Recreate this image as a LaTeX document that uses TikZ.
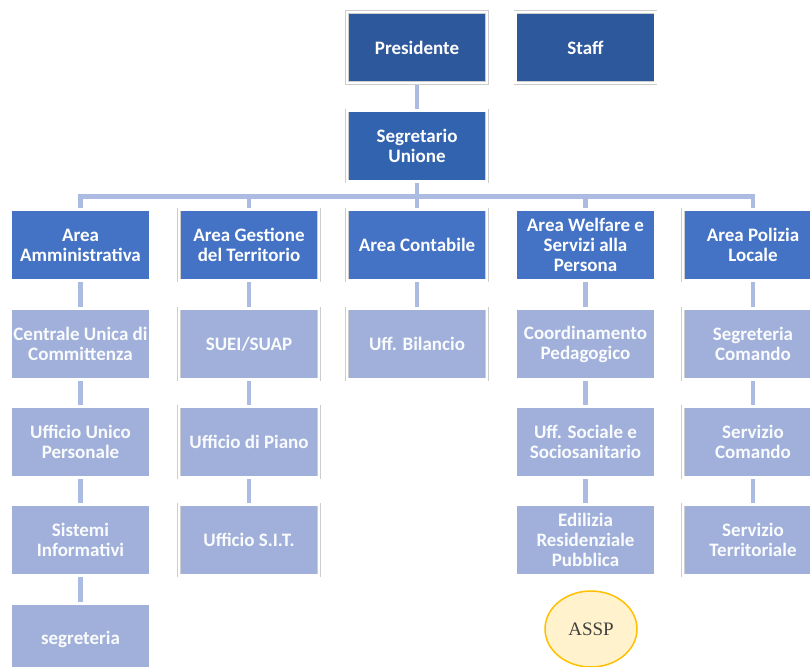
\documentclass[tikz,border=0pt]{standalone}
\usepackage{fontspec}
\setmainfont{Carlito}
\newfontfamily\asspfont{Liberation Serif}
\usetikzlibrary{backgrounds,shapes.geometric}
\definecolor{presblue}{RGB}{46,88,156}
\definecolor{segblue}{RGB}{49,99,174}
\definecolor{areablue}{RGB}{68,114,196}
\definecolor{officeblue}{RGB}{160,176,218}
\definecolor{framegray}{RGB}{205,205,205}
\definecolor{linkfill}{RGB}{172,187,225}
\definecolor{asspfill}{RGB}{255,242,204}
\definecolor{asspgold}{RGB}{255,192,0}
\tikzset{
  box/.style={draw=framegray, double=white, double distance=2.4pt, line width=0.7pt,
    minimum width=140, minimum height=71, inner sep=0pt, align=center,
    text=white, font=\bfseries\fontsize{19}{20}\selectfont},
  area/.style={box, fill=areablue},
  office/.style={box, fill=officeblue, text=white!95!officeblue},
  link/.style={draw=linkfill, line width=4.4pt},
  assp/.style={ellipse, draw=asspgold, line width=1.5pt, fill=asspfill,
    minimum width=92, minimum height=76, inner sep=0pt, text=black!75,
    font=\asspfont\fontsize{19}{22}\selectfont}
}
\begin{document}
\begin{tikzpicture}[x=1pt,y=-1pt]
			\useasboundingbox (0,0) rectangle (810,666);
			%%%%% VERTICE %%%%%
			\node[box, fill=presblue] (pres) at (417,47.5) {Presidente};
			\node[box, fill=presblue] (staff) at (585.5,47.5) {Staff};
			\node[box, fill=segblue] (seg) at (417,146) {Segretario\\Unione};
			
			%%%%% AREE %%%%%
			\node[area] (amm) at (80.5,245) {Area\\Amministrativa};
			\node[area] (gest) at (249,245) {Area Gestione\\del Territorio};
			\node[area] (cont) at (417,245) {Area Contabile};
			\node[area] (welf) at (585.5,245) {Area Welfare e\\Servizi alla\\Persona};
			\node[area] (pol) at (753,245) {Area Polizia\\Locale};
			
			%%%%% UFFICI %%%%%
			\node[office] (cuc) at (80.5,344) {Centrale Unica di\\Committenza};
			\node[office] (uup) at (80.5,442) {Ufficio Unico\\Personale};
			\node[office] (sis) at (80.5,540) {Sistemi\\Informativi};
			\node[office] (segr) at (80.5,639) {segreteria};
			
			\node[office] (suei) at (249,344) {SUEI/SUAP};
			\node[office] (piano) at (249,442) {Ufficio di Piano};
			\node[office] (sit) at (249,540) {Ufficio S.I.T.};
			
			\node[office] (bil) at (417,344) {Uff. Bilancio};
			
			\node[office] (coord) at (585.5,344) {Coordinamento\\Pedagogico};
			\node[office] (soc) at (585.5,442) {Uff. Sociale e\\Sociosanitario};
			\node[office] (erp) at (585.5,540) {Edilizia\\Residenziale\\Pubblica};
			
			\node[office] (segcom) at (753,344) {Segreteria\\Comando};
			\node[office] (sercom) at (753,442) {Servizio\\Comando};
			\node[office] (serter) at (753,540) {Servizio\\Territoriale};
			
			\node[assp] (asspnode) at (591,629) {ASSP};
			
			%%%%% COLLEGAMENTI %%%%%
			\coordinate (bus) at (417,196.5);
			\begin{scope}[on background layer]
			\draw[link] (pres) -- (seg) -- (cont);
			\draw[link] (amm.north) |- (bus) -| (pol.north);
			\draw[link] (gest.north) -- (gest.north |- bus);
			\draw[link] (welf.north) -- (welf.north |- bus);
			
			\draw[link] (amm) -- (cuc) -- (uup) -- (sis) -- (segr);
			\draw[link] (gest) -- (suei) -- (piano) -- (sit);
			\draw[link] (cont) -- (bil);
			\draw[link] (welf) -- (coord) -- (soc) -- (erp);
			\draw[link] (pol) -- (segcom) -- (sercom) -- (serter);
			\end{scope}
		\end{tikzpicture}
\end{document}
